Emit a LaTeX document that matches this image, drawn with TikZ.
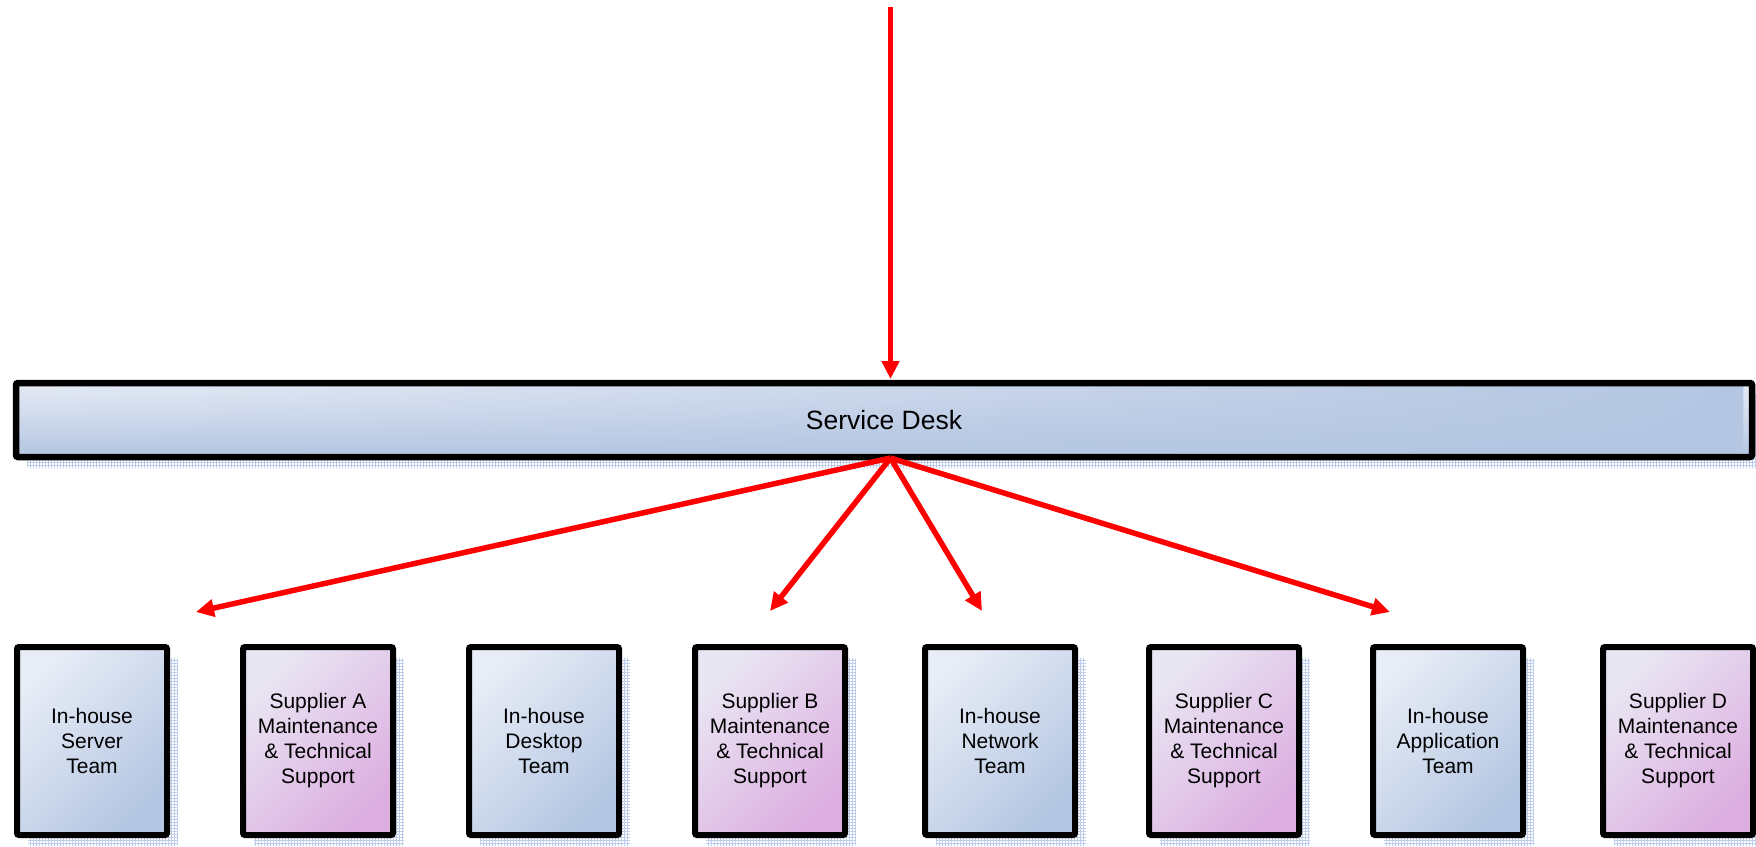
\documentclass[tikz,border=0pt]{standalone}
\usepackage{fontspec}
\setmainfont{Liberation Sans}
\usetikzlibrary{arrows.meta,shadows,patterns,fadings}
\definecolor{blueL}{RGB}{231,236,246}
\definecolor{blueD}{RGB}{180,198,226}
\definecolor{pinkL}{RGB}{233,230,243}
\definecolor{pinkD}{RGB}{220,174,224}
\definecolor{shadowc}{RGB}{190,205,235}
\definecolor{arrowred}{RGB}{255,0,0}
\tikzfading[name=fadeh, left color=transparent!100, right color=transparent!0]
\tikzset{
  shadowbox/.style={drop shadow={shadow xshift=11pt,shadow yshift=-11pt,pattern=grid,pattern color=shadowc,opacity=1}},
  team/.style={draw=black,line width=6pt,rounded corners=2pt,minimum width=150pt,minimum height=188pt,
    align=center,font=\fontsize{21}{25}\selectfont,shadowbox,inner sep=0pt},
  inhouse/.style={team,top color=blueL,bottom color=blueD,shading angle=45},
  supplier/.style={team,top color=pinkL,bottom color=pinkD,shading angle=45},
  desk/.style={draw=black,line width=6.5pt,rounded corners=2pt,minimum width=1736pt,minimum height=74pt,
    path picture={
      \shade[top color=blueL,bottom color=blueD]
        (path picture bounding box.south west) rectangle (path picture bounding box.north east);
      \fill[blueD,path fading=fadeh]
        (path picture bounding box.south west) rectangle (path picture bounding box.north east);
    },
    font=\fontsize{26.5}{30}\selectfont,shadowbox,inner sep=0pt},
  flow/.style={draw=arrowred,line width=5.5pt,-{Triangle[length=18pt,width=17pt]}}
}
\begin{document}
\begin{tikzpicture}[x=1pt,y=-1pt]
\useasboundingbox (0,0) rectangle (1756,846);
\node[desk] (sd) at (884,420) {Service Desk};
\node[inhouse]  (t1) at (92,741)   {In-house\\Server\\Team};
\node[supplier] (t2) at (318,741)  {Supplier A\\Maintenance\\\& Technical\\Support};
\node[inhouse]  (t3) at (544,741)  {In-house\\Desktop\\Team};
\node[supplier] (t4) at (770,741)  {Supplier B\\Maintenance\\\& Technical\\Support};
\node[inhouse]  (t5) at (1000,741) {In-house\\Network\\Team};
\node[supplier] (t6) at (1224,741) {Supplier C\\Maintenance\\\& Technical\\Support};
\node[inhouse]  (t7) at (1448,741) {In-house\\Application\\Team};
\node[supplier] (t8) at (1678,741) {Supplier D\\Maintenance\\\& Technical\\Support};
\coordinate (top) at (890.5,7);
\coordinate (sdin) at (890.5,379);
\coordinate (sdout) at (890.5,458);
\coordinate (a1) at (196,612);
\coordinate (a2) at (770,611);
\coordinate (a3) at (982,611);
\coordinate (a4) at (1390,612);
\draw[flow] (top) -- (sdin);
\draw[flow] (sdout) -- (a1);
\draw[flow] (sdout) -- (a2);
\draw[flow] (sdout) -- (a3);
\draw[flow] (sdout) -- (a4);
\end{tikzpicture}
\end{document}
